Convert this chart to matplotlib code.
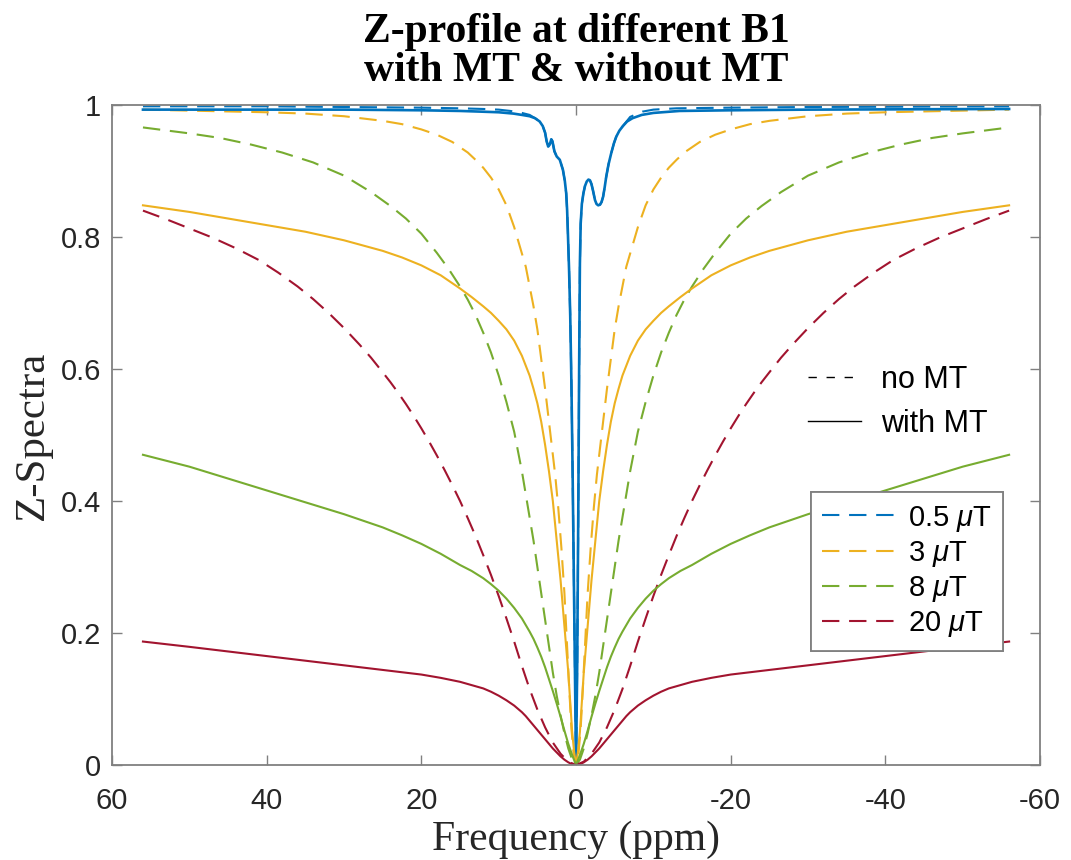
import numpy as np
import matplotlib
matplotlib.use("Agg")
from matplotlib import pyplot as plt
from matplotlib.lines import Line2D

plt.rcParams['axes.unicode_minus'] = False
plt.rcParams['lines.scale_dashes'] = False
plt.rcParams['mathtext.fontset'] = 'custom'
plt.rcParams['mathtext.it'] = 'Liberation Sans:italic'
plt.rcParams['mathtext.rm'] = 'Liberation Sans'

# MATLAB default line colours
C_BLUE = '#0072BD'
C_YELL = '#EDB120'
C_GREEN = '#77AC30'
C_RED = '#A2142F'

b1_labels = [r'0.5 $\mu$T', r'3 $\mu$T', r'8 $\mu$T', r'20 $\mu$T']

# ---- no MT (symmetric curves, |offset| in ppm) ----
d_yell_noMT = [0, 0.3, 0.6, 0.9, 1.2, 1.5, 1.9, 2.3, 2.7, 3.0, 3.3, 3.6, 4.0, 4.5, 5.0, 5.5, 6.0, 6.5, 7.0, 7.5,
               8, 9, 10, 11, 12, 13, 14, 16, 18, 20, 22.5, 25, 30, 35, 40, 48, 56]
z_yell_noMT = [0, 0.015, 0.055, 0.12, 0.19, 0.26, 0.33, 0.39, 0.44, 0.47, 0.50, 0.53, 0.57, 0.615, 0.66, 0.695,
               0.725, 0.755, 0.775, 0.795, 0.815, 0.848, 0.872, 0.89, 0.905, 0.917, 0.928, 0.944, 0.955, 0.963,
               0.971, 0.976, 0.983, 0.987, 0.989, 0.991, 0.993]

d_green_noMT = [0, 0.5, 1, 1.5, 2, 2.5, 3, 3.5, 4, 4.5, 5, 5.5, 6, 6.5, 7, 7.5, 8, 9, 10, 11, 12, 13, 14, 15,
                16.5, 18, 20, 22, 24, 26.5, 30, 34, 38, 42, 46, 50, 56]
z_green_noMT = [0, 0.008, 0.025, 0.048, 0.075, 0.105, 0.14, 0.18, 0.22, 0.26, 0.30, 0.34, 0.375, 0.41, 0.445,
                0.475, 0.505, 0.55, 0.59, 0.625, 0.655, 0.682, 0.705, 0.725, 0.752, 0.776, 0.805, 0.828, 0.847,
                0.868, 0.893, 0.913, 0.928, 0.94, 0.95, 0.957, 0.966]

d_red_noMT = [0, 1, 2, 3, 4, 5, 6, 7, 8, 9, 10, 11, 12, 13, 14, 15, 16, 17, 18, 19, 20, 21, 22, 23, 24, 25,
              26.5, 28, 30, 32, 34, 36, 38.5, 41, 44, 47, 50, 53, 56]
z_red_noMT = [0, 0.005, 0.017, 0.034, 0.057, 0.084, 0.115, 0.150, 0.187, 0.222, 0.256, 0.288, 0.318, 0.347,
              0.374, 0.400, 0.424, 0.447, 0.469, 0.490, 0.510, 0.529, 0.547, 0.564, 0.580, 0.595, 0.617, 0.637,
              0.662, 0.685, 0.706, 0.725, 0.746, 0.765, 0.783, 0.799, 0.813, 0.827, 0.840]

# ---- with MT (symmetric) ----
d_yell_MT = [0, 0.25, 0.5, 0.75, 1.0, 1.25, 1.5, 1.75, 2.0, 2.25, 2.5, 2.75, 3.0, 3.5, 4.0, 4.5, 5.0, 5.5, 6.0,
             6.5, 7.0, 8, 9, 10, 11, 12, 13.5, 15, 17.5, 20, 22.5, 25, 30, 35, 40, 45, 50, 56]
z_yell_MT = [0, 0.02, 0.05, 0.095, 0.14, 0.175, 0.21, 0.245, 0.28, 0.31, 0.34, 0.37, 0.40, 0.445, 0.485, 0.52,
             0.548, 0.57, 0.59, 0.605, 0.62, 0.643, 0.66, 0.673, 0.685, 0.695, 0.709, 0.722, 0.742, 0.757, 0.769,
             0.779, 0.795, 0.808, 0.818, 0.828, 0.838, 0.848]

d_green_MT = [0, 0.5, 1, 1.5, 2, 2.5, 3, 3.5, 4, 4.5, 5, 5.5, 6, 7, 8, 9, 10, 11, 12, 13.5, 15, 17.5, 20, 22.5,
              25, 27.5, 30, 35, 40, 45, 50, 56]
z_green_MT = [0, 0.015, 0.032, 0.052, 0.073, 0.093, 0.112, 0.13, 0.148, 0.164, 0.178, 0.191, 0.202, 0.222, 0.238,
              0.252, 0.264, 0.274, 0.283, 0.294, 0.303, 0.320, 0.335, 0.348, 0.360, 0.370, 0.380, 0.398, 0.416,
              0.434, 0.452, 0.470]

d_red_MT = [0, 0.5, 1, 1.5, 2, 2.5, 3, 3.5, 4, 4.5, 5, 5.5, 6, 6.5, 7, 7.5, 8, 9, 10, 11, 12, 13.5, 15, 17.5, 20,
            22.5, 25, 30, 35, 40, 45, 50, 56]
z_red_MT = [0, 0.001, 0.004, 0.008, 0.013, 0.019, 0.025, 0.032, 0.039, 0.046, 0.053, 0.06, 0.067, 0.074, 0.080,
            0.085, 0.090, 0.098, 0.105, 0.111, 0.116, 0.121, 0.126, 0.132, 0.137, 0.1405, 0.144, 0.151, 0.158,
            0.165, 0.172, 0.179, 0.187]

# ---- 0.5 uT: CEST dips make it asymmetric, listed from +56 to -56 ppm ----
f_blue_MT = [56, 40, 30, 20, 15, 12.4, 10, 8.1, 7, 6, 5.3, 4.7, 4.3, 4.0, 3.8, 3.6, 3.4, 3.2, 3.05, 2.8, 2.5,
             2.1, 1.7, 1.45, 1.27, 1.15, 1.05, 0.9, 0.75, 0.6, 0.45, 0.3, 0.15, 0,
             -0.15, -0.3, -0.4, -0.5, -0.6, -0.75, -0.95, -1.15, -1.38, -1.6, -1.8, -2.0, -2.2, -2.45, -2.65,
             -2.87, -3.1, -3.3, -3.5, -3.7, -3.9, -4.2, -4.55, -4.9, -5.2, -5.6, -6.05, -6.6, -7.3, -8.5, -10,
             -13.4, -20, -30, -56]
z_blue_MT = [0.993, 0.993, 0.993, 0.992, 0.991, 0.990, 0.989, 0.987, 0.985, 0.983, 0.980, 0.975, 0.968, 0.958,
             0.945, 0.937, 0.940, 0.948, 0.945, 0.930, 0.922, 0.917, 0.902, 0.885, 0.866, 0.840, 0.805, 0.75,
             0.68, 0.58, 0.45, 0.30, 0.15, 0.0,
             0.15, 0.40, 0.60, 0.76, 0.82, 0.85, 0.866, 0.877, 0.884, 0.887, 0.886, 0.880, 0.870, 0.856, 0.850,
             0.848, 0.849, 0.853, 0.861, 0.875, 0.891, 0.910, 0.927, 0.942, 0.952, 0.961, 0.968, 0.975, 0.980,
             0.985, 0.988, 0.991, 0.992, 0.993, 0.994]

# 0.5 uT without MT: only the wings differ, the centre coincides with the MT curve
f_blue_wing_pos = [56, 40, 30, 20, 15, 12, 10, 8.5, 7, 6]
z_blue_wing_pos = [0.998, 0.998, 0.997, 0.996, 0.995, 0.994, 0.993, 0.991, 0.988, 0.985]
f_blue_wing_neg = [-7, -8.6, -10, -13, -20, -30, -56]
z_blue_wing_neg = [0.982, 0.990, 0.993, 0.995, 0.996, 0.997, 0.998]


def mirror(d, z):
    d = np.asarray(d, float)
    z = np.asarray(z, float)
    return np.concatenate([d[::-1], -d[1:]]), np.concatenate([z[::-1], z[1:]])


fb = np.asarray(f_blue_MT)
zb = np.asarray(z_blue_MT)
core = (fb <= 5.3) & (fb >= -6.05)
f_blue_noMT = np.concatenate([f_blue_wing_pos, fb[core], f_blue_wing_neg])
z_blue_noMT = np.concatenate([z_blue_wing_pos, zb[core], z_blue_wing_neg])

fig = plt.figure(figsize=(10.71, 8.6), dpi=100)
ax = fig.add_axes([0.1046, 0.1105, 0.8665, 0.7674])

dash = (0, (12.5, 7))
lw = 1.5
lw_blue = 1.9

# no MT, dashed
h1, = ax.plot(f_blue_noMT, z_blue_noMT, color=C_BLUE, lw=lw, ls=dash)
h2, = ax.plot(*mirror(d_yell_noMT, z_yell_noMT), color=C_YELL, lw=lw, ls=dash)
h3, = ax.plot(*mirror(d_green_noMT, z_green_noMT), color=C_GREEN, lw=lw, ls=dash)
h4, = ax.plot(*mirror(d_red_noMT, z_red_noMT), color=C_RED, lw=lw, ls=dash)

# with MT, solid
ax.plot(f_blue_MT, z_blue_MT, color=C_BLUE, lw=lw_blue)
ax.plot(*mirror(d_yell_MT, z_yell_MT), color=C_YELL, lw=lw)
ax.plot(*mirror(d_green_MT, z_green_MT), color=C_GREEN, lw=lw)
ax.plot(*mirror(d_red_MT, z_red_MT), color=C_RED, lw=lw)

ax.set_xlim(60, -60)
ax.set_ylim(0, 1)
ax.set_xticks([60, 40, 20, 0, -20, -40, -60])
ax.set_yticks([0, 0.2, 0.4, 0.6, 0.8, 1])
ax.set_yticklabels(['0', '0.2', '0.4', '0.6', '0.8', '1'])

for s in ax.spines.values():
    s.set_color('#808080')
    s.set_linewidth(1.3)
ax.tick_params(direction='in', length=7, width=1.0, color='#808080', top=True, right=True,
               labelsize=21, labelcolor='#262626')
ax.tick_params(axis='x', pad=16)
ax.tick_params(axis='y', pad=8)
for lab in ax.get_xticklabels() + ax.get_yticklabels():
    lab.set_fontfamily('Liberation Sans')

ax.set_title('Z-profile at different B1\nwith MT & without MT', fontfamily='Liberation Serif',
             fontweight='bold', fontsize=30, linespacing=1.05, pad=17)
ax.set_xlabel('Frequency (ppm)', fontfamily='Liberation Serif', fontsize=30, color='#262626', labelpad=4)
ax.set_ylabel('Z-Spectra', fontfamily='Liberation Serif', fontsize=31, color='#262626', labelpad=6)

# colour legend (B1 levels)
leg = ax.legend([h1, h2, h3, h4], b1_labels, loc='upper right', bbox_to_anchor=(1003 / 1071, 1 - 492 / 860),
                bbox_transform=fig.transFigure, borderaxespad=0, fancybox=False, framealpha=1,
                edgecolor='#808080', prop={'family': 'Liberation Sans', 'size': 21},
                handlelength=2.65, handletextpad=0.28, labelspacing=0.18, borderpad=0.4)
leg.get_frame().set_linewidth(1.3)
ax.add_artist(leg)

# line-style legend (MT on/off)
mt_handles = [Line2D([], [], color='k', lw=1.0, ls=(0, (6, 7))),
              Line2D([], [], color='k', lw=1.0)]
fig.legend(mt_handles, ['no MT', 'with MT'], loc='upper left',
           bbox_to_anchor=(808 / 1071, 1 - 365 / 860), frameon=False,
           prop={'family': 'Liberation Sans', 'size': 22},
           handlelength=1.75, handletextpad=0.65, labelspacing=0.45, borderpad=0, borderaxespad=0)

fig.savefig('out.png', dpi=100, facecolor='white')
